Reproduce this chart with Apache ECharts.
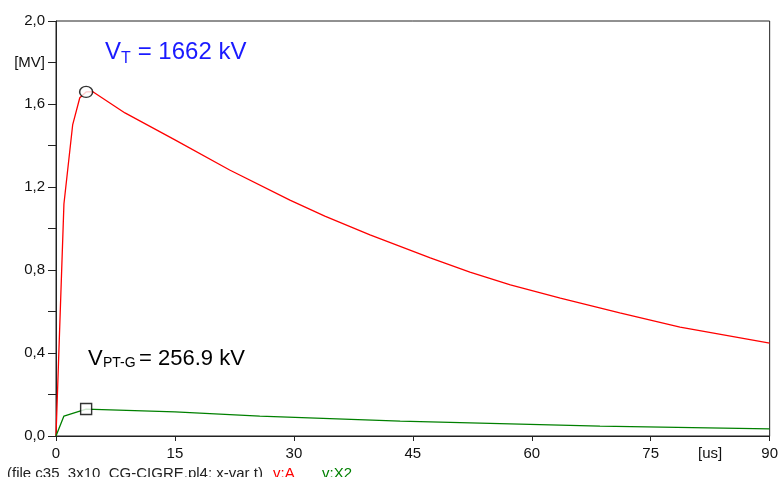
<!DOCTYPE html>
<html>
<head>
<meta charset="utf-8">
<script src="https://cdn.jsdelivr.net/npm/echarts@6/dist/echarts.min.js"></script>
<style>html,body{margin:0;padding:0;background:#fff;overflow:hidden}#c{width:781px;height:477px}</style>
</head>
<body>
<div id="c"></div>
<script>
// time [us] and voltage [MV]
const tA = [0, 1.0, 2.1, 3.0, 3.8, 4.6, 8.7, 15, 21.9, 29.5, 33.9, 39.6, 47.2, 52.2, 57.3, 63.6, 71.1, 78.7, 90];
const vA = [0, 1.118, 1.499, 1.63, 1.658, 1.66, 1.557, 1.427, 1.282, 1.137, 1.06, 0.969, 0.858, 0.79, 0.728, 0.665, 0.593, 0.525, 0.448];
const tX2 = [0, 1.0, 3.8, 15, 25.7, 43.4, 68.6, 90];
const vX2 = [0, 0.096, 0.13, 0.116, 0.096, 0.072, 0.048, 0.034];
const peakA = [3.8, 1.658];
const peakX2 = [3.8, 0.13];
const xLabelTicks = [0, 15, 30, 45, 60, 75, 82.5, 90];
const xTicks = [0, 15, 30, 45, 60, 75, 90];

const zip = (a, b) => a.map((v, i) => [v, b[i]]);
const chart = echarts.init(document.getElementById('c'), null, {renderer: 'canvas'});
const F = 'Liberation Sans, Arial, sans-serif';
chart.setOption({
  animation: false,
  grid: {left: 56, right: 10, top: 21, bottom: 41, show: true, borderColor: '#222', borderWidth: 1},
  xAxis: {
    type: 'value', min: 0, max: 90, interval: 7.5,
    axisLine: {lineStyle: {color: '#222', width: 1}},
    axisTick: {show: true, length: 5, customValues: xTicks, lineStyle: {color: '#222'}},
    splitLine: {show: false},
    axisLabel: {customValues: xLabelTicks, color: '#111', fontSize: 15, fontFamily: F, margin: 10,
      formatter: v => (Math.abs(v - 82.5) < 0.01 ? '[us]' : String(v))}
  },
  yAxis: {
    type: 'value', min: 0, max: 2.0, interval: 0.2,
    axisLine: {lineStyle: {color: '#222', width: 1}},
    axisTick: {show: true, length: 8, lineStyle: {color: '#222'}},
    splitLine: {show: false},
    axisLabel: {color: '#111', fontSize: 15, fontFamily: F, margin: 11,
      formatter: v => {
        const k = Math.round(v * 10);
        if (k === 18) return '[MV]';
        if (k % 4 !== 0) return '';
        return (k / 10).toFixed(1).replace('.', ',');
      }}
  },
  series: [
    {type: 'line', data: zip(tA, vA), showSymbol: false, lineStyle: {color: '#ff0000', width: 1.3}, z: 2},
    {type: 'line', data: zip(tX2, vX2), showSymbol: false, lineStyle: {color: '#008000', width: 1.3}, z: 2},
    {type: 'scatter', data: [peakA], symbol: 'circle', symbolSize: [13, 11],
      itemStyle: {color: '#fff', borderColor: '#000', borderWidth: 1.4}, z: 5},
    {type: 'scatter', data: [peakX2], symbol: 'rect', symbolSize: 11,
      itemStyle: {color: '#fff', borderColor: '#000', borderWidth: 1.4}, z: 5}
  ],
  graphic: [
    {type: 'text', left: 105, top: 40, style: {text: 'V', font: '24px ' + F, fill: '#1a1aff'}},
    {type: 'text', left: 121, top: 51, style: {text: 'T', font: '16px ' + F, fill: '#1a1aff'}},
    {type: 'text', left: 131, top: 40, style: {text: ' = 1662 kV', font: '24px ' + F, fill: '#1a1aff'}},
    {type: 'text', left: 88, top: 348, style: {text: 'V', font: '22px ' + F, fill: '#000'}},
    {type: 'text', left: 103, top: 356, style: {text: 'PT-G', font: '14px ' + F, fill: '#000'}},
    {type: 'text', left: 139, top: 348, style: {text: '= 256.9 kV', font: '22px ' + F, fill: '#000'}},
    {type: 'text', left: 7, top: 466, style: {text: '(file c35_3x10_CG-CIGRE.pl4; x-var t)', font: '15px ' + F, fill: '#222'}},
    {type: 'text', left: 273, top: 466, style: {text: 'v:A', font: '15px ' + F, fill: '#ff0000'}},
    {type: 'text', left: 322, top: 466, style: {text: 'v:X2', font: '15px ' + F, fill: '#008000'}}
  ]
});
</script>
</body>
</html>
